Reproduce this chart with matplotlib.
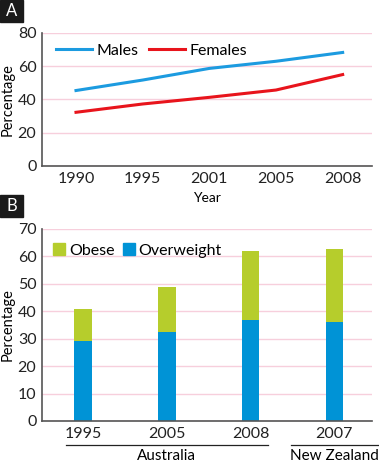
import matplotlib
matplotlib.use("Agg")
import matplotlib.pyplot as plt
from matplotlib.patches import Rectangle
from matplotlib.lines import Line2D

plt.rcParams.update({
    "font.family": ["Lato", "DejaVu Sans"],
    "font.size": 10,
})

# Panel A data
years_a = ["1990", "1995", "2001", "2005", "2008"]
males = [45.4, 51.7, 58.7, 63.0, 68.3]
females = [32.3, 37.3, 41.3, 45.7, 55.0]

# Panel B data
years_b = ["1995", "2005", "2008", "2007"]
overweight = [29.2, 32.6, 37.0, 36.0]
obese = [11.5, 16.3, 24.8, 26.6]
groups = [("Australia", 0, 2), ("New Zealand", 3, 3)]

blue_line = "#1c9be0"
red_line = "#e8141c"
bar_blue = "#0093d6"
bar_green = "#b6cd2c"
grid_col = "#f7cfdc"
axis_col = "#555555"

W, H = 379, 462
fig = plt.figure(figsize=(W / 100, H / 100), dpi=100)

def style_axes(ax):
    for s in ["top", "right"]:
        ax.spines[s].set_visible(False)
    for s in ["left", "bottom"]:
        ax.spines[s].set_color(axis_col)
        ax.spines[s].set_linewidth(1.2)
    ax.tick_params(length=0, labelsize=11.5, colors="#222222", pad=4)
    ax.yaxis.grid(True, color=grid_col, linewidth=1)
    ax.set_axisbelow(True)

def panel_label(txt, y_top):
    fig.patches.append(Rectangle((0, 1 - (y_top + 22) / H), 23 / W, 22 / H,
                                 transform=fig.transFigure, color="#1a1a1a"))
    fig.text(11.5 / W, 1 - (y_top + 11) / H, txt, color="white", fontsize=12,
             ha="center", va="center")

# ---- Panel A ----
axA = fig.add_axes([42 / W, 1 - 166 / H, 330 / W, 133 / H])
style_axes(axA)
xa = range(len(years_a))
axA.plot(xa, males, color=blue_line, lw=2.2, label="Males")
axA.plot(xa, females, color=red_line, lw=2.2, label="Females")
axA.set_ylim(0, 80)
axA.set_yticks([0, 20, 40, 60, 80])
axA.set_xlim(-0.51, 4.44)
axA.set_xticks(list(xa))
axA.set_xticklabels(years_a)
axA.set_xlabel("Year", fontsize=10, labelpad=5)
axA.set_ylabel("Percentage", fontsize=10.5, labelpad=2)
axA.legend(loc="upper left", bbox_to_anchor=(0.0, 1.03), ncol=2, frameon=False,
           handlelength=2.2, handletextpad=0.3, columnspacing=0.7, fontsize=11.5)
panel_label("A", 0)

# ---- Panel B ----
axB = fig.add_axes([42 / W, 1 - 421 / H, 330 / W, 192 / H])
style_axes(axB)
xb = range(len(years_b))
axB.bar(xb, overweight, width=0.21, color=bar_blue, label="Overweight")
axB.bar(xb, obese, width=0.21, bottom=overweight, color=bar_green, label="Obese")
axB.set_ylim(0, 70)
axB.set_yticks(range(0, 71, 10))
axB.set_xlim(-0.49, 3.45)
axB.set_xticks(list(xb))
axB.set_xticklabels(years_b)
axB.set_ylabel("Percentage", fontsize=10.5, labelpad=2)
handles = [Rectangle((0, 0), 1, 1, color=bar_green), Rectangle((0, 0), 1, 1, color=bar_blue)]
axB.legend(handles, ["Obese", "Overweight"], loc="upper left", bbox_to_anchor=(-0.01, 1.0),
           ncol=2, frameon=False, handlelength=0.75, handleheight=0.75,
           handletextpad=0.25, columnspacing=0.5, fontsize=11.5)
for name, i0, i1 in groups:
    if i0 == i1:
        x0, x1 = i0 - 0.52, i1 + 0.52
    else:
        x0, x1 = i0 - 0.2, i1 + 0.21
    axB.add_line(Line2D([x0, x1], [-0.125, -0.125], color="#222222", lw=0.9,
                        transform=axB.get_xaxis_transform(), clip_on=False))
    axB.text((i0 + i1) / 2, -0.148, name, transform=axB.get_xaxis_transform(),
             ha="center", va="top", fontsize=11)
panel_label("B", 195)

fig.savefig("out.png", dpi=100)
